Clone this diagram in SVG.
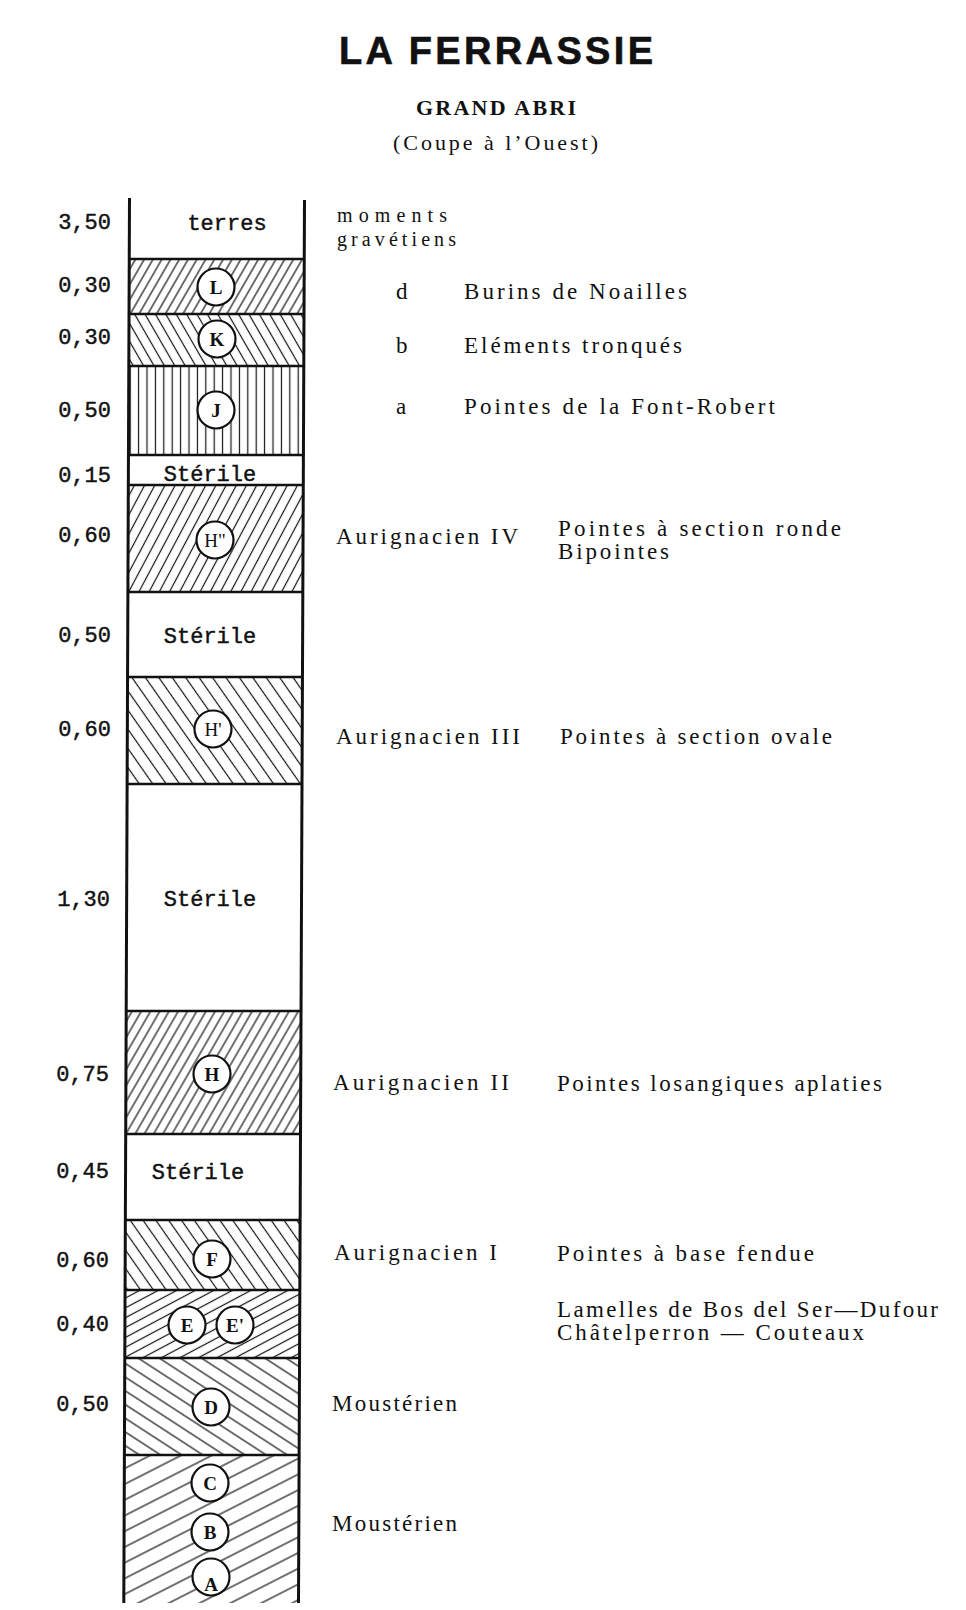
<svg xmlns="http://www.w3.org/2000/svg" width="966" height="1610" viewBox="0 0 966 1610">
<style>
.mono{font-family:"Liberation Mono","DejaVu Sans Mono",monospace;font-size:22px;fill:#111;stroke:#111;stroke-width:0.45}
.ser{font-family:"Liberation Serif","DejaVu Serif",serif;font-size:23px;fill:#111}
.lab{text-anchor:end}
.ctr{text-anchor:middle}
.circ{fill:#fff;stroke:#111;stroke-width:2.2}
.cl{font-family:"Liberation Serif","DejaVu Serif",serif;font-size:19px;font-weight:bold;fill:#111;text-anchor:middle}
.bd{stroke:#111;stroke-width:2.6;fill:none}
.side{stroke:#111;stroke-width:3;fill:none}
.hl{stroke:#111;stroke-width:1.2}
</style>
<defs>
<pattern id="pL" patternUnits="userSpaceOnUse" width="7.6" height="10" patternTransform="rotate(30)"><line class="hl" x1="3.8" y1="-1" x2="3.8" y2="11"/></pattern>
<pattern id="pK" patternUnits="userSpaceOnUse" width="9" height="10" patternTransform="rotate(-30)"><line class="hl" x1="4.5" y1="-1" x2="4.5" y2="11"/></pattern>
<pattern id="pJ" patternUnits="userSpaceOnUse" width="8.4" height="10"><line class="hl" x1="4.2" y1="-1" x2="4.2" y2="11"/></pattern>
<pattern id="pH2" patternUnits="userSpaceOnUse" width="9" height="10" patternTransform="rotate(28)"><line class="hl" x1="4.5" y1="-1" x2="4.5" y2="11"/></pattern>
<pattern id="pH1" patternUnits="userSpaceOnUse" width="11" height="10" patternTransform="rotate(-35)"><line class="hl" x1="5.5" y1="-1" x2="5.5" y2="11"/></pattern>
<pattern id="pH" patternUnits="userSpaceOnUse" width="8" height="10" patternTransform="rotate(30)"><line class="hl" x1="4" y1="-1" x2="4" y2="11"/></pattern>
<pattern id="pF" patternUnits="userSpaceOnUse" width="10.5" height="10" patternTransform="rotate(-35)"><line class="hl" x1="5.25" y1="-1" x2="5.25" y2="11"/></pattern>
<pattern id="pE" patternUnits="userSpaceOnUse" width="8.7" height="10" patternTransform="rotate(62)"><line class="hl" x1="4.35" y1="-1" x2="4.35" y2="11"/></pattern>
<pattern id="pD" patternUnits="userSpaceOnUse" width="11.5" height="10" patternTransform="rotate(-57)"><line class="hl" x1="5.75" y1="-1" x2="5.75" y2="11"/></pattern>
<pattern id="pC" patternUnits="userSpaceOnUse" width="14" height="10" patternTransform="rotate(63)"><line class="hl" x1="7" y1="-1" x2="7" y2="11"/></pattern>
</defs>
<rect width="966" height="1610" fill="#fff"/>

<g id="title">
<text x="339" y="64" textLength="314" lengthAdjust="spacing" style="font-family:'Liberation Sans',Arial,sans-serif;font-weight:bold;font-size:38px;fill:#111;stroke:#111;stroke-width:0.6">LA FERRASSIE</text>
<text x="416" y="115" textLength="160" lengthAdjust="spacing" style="font-family:'Liberation Serif',serif;font-weight:bold;font-size:22px;fill:#111">GRAND ABRI</text>
<text x="393" y="150" textLength="205" lengthAdjust="spacing" class="ser" style="font-size:22px">(Coupe à l’Ouest)</text>
</g>

<g id="hatches">
<polygon points="128.83,259 304.24,259 304.00,314 128.67,314" fill="url(#pL)"/>
<polygon points="128.67,314 304.00,314 303.78,366 128.52,366" fill="url(#pK)"/>
<polygon points="128.52,366 303.78,366 303.40,455 128.17,455" fill="url(#pJ)"/>
<polygon points="128.07,485 303.27,485 302.82,592 127.68,592" fill="url(#pH2)"/>
<polygon points="127.34,677 302.45,677 302.00,784 126.93,784" fill="url(#pH1)"/>
<polygon points="126.06,1011 301.03,1011 300.50,1134 125.59,1134" fill="url(#pH)"/>
<polygon points="125.26,1220 300.14,1220 299.84,1290 124.99,1290" fill="url(#pF)"/>
<polygon points="124.99,1290 299.84,1290 299.55,1358 124.73,1358" fill="url(#pE)"/>
<polygon points="124.73,1358 299.55,1358 299.13,1455 124.36,1455" fill="url(#pD)"/>
<polygon points="124.36,1455 299.13,1455 298.50,1603 123.80,1603" fill="url(#pC)"/>
</g>

<g id="column">
<line class="side" x1="129.5" y1="198" x2="123.8" y2="1603"/>
<line class="side" x1="304.5" y1="200" x2="298.5" y2="1603"/>
<line class="bd" x1="128.83" y1="259" x2="304.24" y2="259"/>
<line class="bd" x1="128.67" y1="314" x2="304.00" y2="314"/>
<line class="bd" x1="128.52" y1="366" x2="303.78" y2="366"/>
<line class="bd" x1="128.17" y1="455" x2="303.40" y2="455"/>
<line class="bd" x1="128.07" y1="485" x2="303.27" y2="485"/>
<line class="bd" x1="127.68" y1="592" x2="302.82" y2="592"/>
<line class="bd" x1="127.34" y1="677" x2="302.45" y2="677"/>
<line class="bd" x1="126.93" y1="784" x2="302.00" y2="784"/>
<line class="bd" x1="126.06" y1="1011" x2="301.03" y2="1011"/>
<line class="bd" x1="125.59" y1="1134" x2="300.50" y2="1134"/>
<line class="bd" x1="125.26" y1="1220" x2="300.14" y2="1220"/>
<line class="bd" x1="124.99" y1="1290" x2="299.84" y2="1290"/>
<line class="bd" x1="124.73" y1="1358" x2="299.55" y2="1358"/>
<line class="bd" x1="124.36" y1="1455" x2="299.13" y2="1455"/>
</g>

<g id="thickness">
<text class="mono lab" x="111" y="229">3,50</text>
<text class="mono lab" x="111" y="292">0,30</text>
<text class="mono lab" x="111" y="344">0,30</text>
<text class="mono lab" x="111" y="417">0,50</text>
<text class="mono lab" x="111" y="482">0,15</text>
<text class="mono lab" x="111" y="542">0,60</text>
<text class="mono lab" x="111" y="642">0,50</text>
<text class="mono lab" x="111" y="736">0,60</text>
<text class="mono lab" x="110" y="906">1,30</text>
<text class="mono lab" x="109" y="1081">0,75</text>
<text class="mono lab" x="109" y="1178">0,45</text>
<text class="mono lab" x="109" y="1267">0,60</text>
<text class="mono lab" x="109" y="1331">0,40</text>
<text class="mono lab" x="109" y="1411">0,50</text>
</g>

<g id="layer-terres"><text class="mono ctr" x="227" y="230">terres</text></g>
<g id="layer-sterile-1"><text class="mono ctr" x="210" y="481">Stérile</text></g>
<g id="layer-sterile-2"><text class="mono ctr" x="210" y="643">Stérile</text></g>
<g id="layer-sterile-3"><text class="mono ctr" x="210" y="906">Stérile</text></g>
<g id="layer-sterile-4"><text class="mono ctr" x="198" y="1179">Stérile</text></g>

<g id="layer-L"><circle class="circ" cx="216" cy="287" r="18.5"/><text class="cl" x="216" y="294">L</text></g>
<g id="layer-K"><circle class="circ" cx="217" cy="339" r="18.5"/><text class="cl" x="217" y="346">K</text></g>
<g id="layer-J"><circle class="circ" cx="216" cy="410" r="18.5"/><text class="cl" x="216" y="417">J</text></g>
<g id="layer-H2"><circle class="circ" cx="215" cy="540" r="18.5"/><text class="cl" x="215" y="547" style="font-weight:normal">H"</text></g>
<g id="layer-H1"><circle class="circ" cx="213" cy="729" r="18.5"/><text class="cl" x="213" y="736" style="font-weight:normal">H'</text></g>
<g id="layer-H"><circle class="circ" cx="212" cy="1074" r="18.5"/><text class="cl" x="212" y="1081">H</text></g>
<g id="layer-F"><circle class="circ" cx="212" cy="1259" r="18.5"/><text class="cl" x="212" y="1266">F</text></g>
<g id="layer-E"><circle class="circ" cx="187" cy="1325" r="18.5"/><text class="cl" x="187" y="1332">E</text></g>
<g id="layer-E1"><circle class="circ" cx="235" cy="1325" r="18.5"/><text class="cl" x="235" y="1332">E'</text></g>
<g id="layer-D"><circle class="circ" cx="211" cy="1407" r="18.5"/><text class="cl" x="211" y="1414">D</text></g>
<g id="layer-C"><circle class="circ" cx="210" cy="1483" r="18.5"/><text class="cl" x="210" y="1490">C</text></g>
<g id="layer-B"><circle class="circ" cx="210" cy="1532" r="18.5"/><text class="cl" x="210" y="1539">B</text></g>
<g id="layer-A"><circle class="circ" cx="211" cy="1577" r="18.5"/><text class="cl" x="211" y="1591">A</text></g>

<g id="industries">
<text class="ser" x="337" y="222" textLength="110" lengthAdjust="spacing" style="font-size:20px">moments</text>
<text class="ser" x="337" y="246" textLength="119" lengthAdjust="spacing" style="font-size:20px">gravétiens</text>
<text class="ser" x="396" y="299">d</text>
<text class="ser" x="464" y="299" textLength="223" lengthAdjust="spacing">Burins de Noailles</text>
<text class="ser" x="396" y="353">b</text>
<text class="ser" x="464" y="353" textLength="218" lengthAdjust="spacing">Eléments tronqués</text>
<text class="ser" x="396" y="414">a</text>
<text class="ser" x="464" y="414" textLength="311" lengthAdjust="spacing">Pointes de la Font-Robert</text>
<text class="ser" x="336" y="544" textLength="182" lengthAdjust="spacing">Aurignacien IV</text>
<text class="ser" x="558" y="536" textLength="283" lengthAdjust="spacing">Pointes à section ronde</text>
<text class="ser" x="558" y="559" textLength="111" lengthAdjust="spacing">Bipointes</text>
<text class="ser" x="336" y="744" textLength="184" lengthAdjust="spacing">Aurignacien III</text>
<text class="ser" x="560" y="744" textLength="272" lengthAdjust="spacing">Pointes à section ovale</text>
<text class="ser" x="333" y="1090" textLength="176" lengthAdjust="spacing">Aurignacien II</text>
<text class="ser" x="557" y="1091" textLength="325" lengthAdjust="spacing">Pointes losangiques aplaties</text>
<text class="ser" x="334" y="1260" textLength="163" lengthAdjust="spacing">Aurignacien I</text>
<text class="ser" x="557" y="1261" textLength="257" lengthAdjust="spacing">Pointes à base fendue</text>
<text class="ser" x="557" y="1317" textLength="381" lengthAdjust="spacing">Lamelles de Bos del Ser—Dufour</text>
<text class="ser" x="557" y="1340" textLength="307" lengthAdjust="spacing">Châtelperron — Couteaux</text>
<text class="ser" x="332" y="1411" textLength="125" lengthAdjust="spacing">Moustérien</text>
<text class="ser" x="332" y="1531" textLength="125" lengthAdjust="spacing">Moustérien</text>
</g>
</svg>
